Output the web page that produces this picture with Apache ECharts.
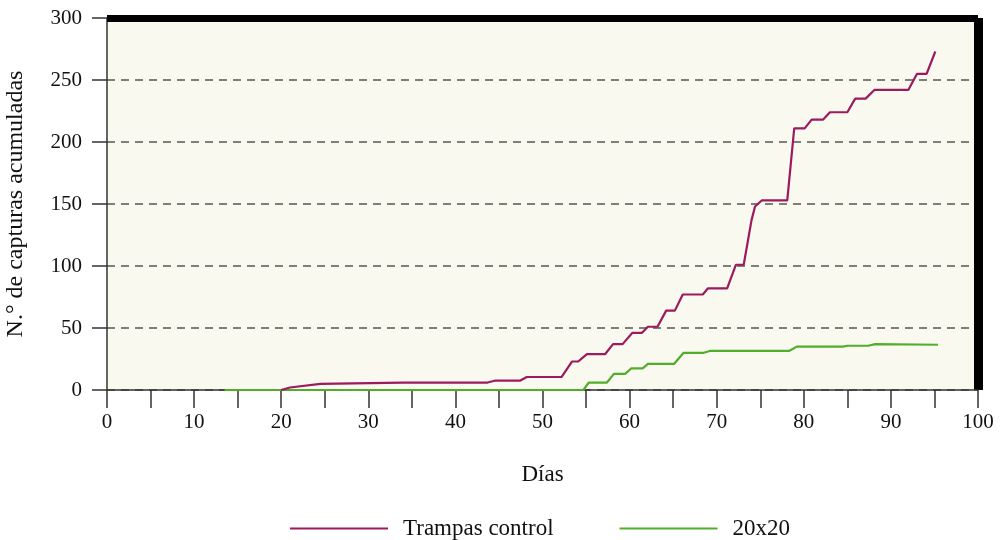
<!DOCTYPE html>
<html>
<head>
<meta charset="utf-8">
<script src="https://cdn.jsdelivr.net/npm/echarts@6/dist/echarts.min.js"></script>
<style>
  html, body { margin: 0; padding: 0; background: #fff; }
  #main { width: 1000px; height: 540px; }
</style>
</head>
<body>
<div id="main"></div>
<script>
// cumulative captures (day, count)
const controlDays = [20, 21, 24.5, 34, 43.7, 44.5, 47.4, 48.2, 52.2, 53.4, 54.1, 55.1, 57.2, 58.1, 59.2, 60.3, 61.4, 62.1, 63.2, 64.2, 65.2, 66.1, 68.4, 69, 71.2, 72.2, 73.1, 74, 74.4, 75.2, 78.1, 78.9, 80.1, 80.9, 82.2, 83, 85, 85.9, 87.1, 88.1, 92, 93, 94.1, 95.1];
const controlVals = [0, 2, 5, 6, 6, 7.5, 7.5, 10.5, 10.5, 23, 23, 29, 29, 37, 37, 46, 46, 51, 51, 64, 64, 77, 77, 82, 82, 101, 101, 137, 148, 153, 153, 211, 211, 218, 218, 224, 224, 235, 235, 242, 242, 255, 255, 273];

const gridDays = [13.5, 54.7, 55.3, 57.4, 58.2, 59.5, 60.2, 61.5, 62.1, 65.1, 66.2, 68.5, 69.2, 78.3, 79.2, 84.5, 85, 87.4, 88.2, 95.4];
const gridVals = [0, 0, 6, 6, 13, 13, 17.5, 17.5, 21, 21, 30, 30, 31.5, 31.5, 35, 35, 35.7, 35.7, 37, 36.5];

const seriesNames = ['Trampas control', '20x20'];
const xTicks = [0, 10, 20, 30, 40, 50, 60, 70, 80, 90, 100];
const yTicks = [0, 50, 100, 150, 200, 250, 300];

const font = '"Liberation Serif", "DejaVu Serif", serif';
const pairs = (xs, ys) => xs.map((x, i) => [x, ys[i]]);

window.onload = function () {
  const myChart = echarts.init(document.getElementById('main'));
  const option = {
    animation: false,
    textStyle: { fontFamily: font, color: '#111' },
    grid: {
      left: 107, right: 22, top: 18, bottom: 150,
      outerBoundsMode: 'none', containLabel: false,
      show: true, backgroundColor: '#f9f9ef', borderWidth: 0
    },
    legend: {
      left: 285, top: 512,
      icon: 'rect', itemWidth: 98, itemHeight: 2, itemGap: 66,
      textStyle: { fontFamily: font, fontSize: 23, color: '#111', padding: [0, 0, 0, 10] },
      data: seriesNames
    },
    xAxis: [{
      type: 'value', min: 0, max: 100, interval: 5,
      name: 'Días', nameLocation: 'middle', nameGap: 73,
      nameTextStyle: { fontFamily: font, fontSize: 23, color: '#111' },
      axisLine: { lineStyle: { color: '#333', width: 1.5 } },
      axisTick: { length: 18, lineStyle: { color: '#333', width: 1.5 } },
      axisLabel: {
        margin: 22, fontFamily: font, fontSize: 21, color: '#111',
        formatter: v => (xTicks.indexOf(v) >= 0 ? String(v) : '')
      },
      splitLine: { show: false }
    }, {
      type: 'value', min: 0, max: 100, position: 'top',
      axisLine: { show: true, onZero: false, lineStyle: { color: '#000', width: 7, cap: 'butt' } },
      axisTick: { show: false }, axisLabel: { show: false }, splitLine: { show: false }
    }],
    yAxis: [{
      type: 'value', min: 0, max: 300, interval: 50,
      name: 'N.° de capturas acumuladas', nameLocation: 'middle', nameGap: 79,
      nameTextStyle: { fontFamily: font, fontSize: 24, color: '#111' },
      axisLine: { show: true, lineStyle: { color: '#333', width: 1.5 } },
      axisTick: { show: true, length: 15, lineStyle: { color: '#333', width: 1.5 } },
      axisLabel: {
        margin: 25, fontFamily: font, fontSize: 21, color: '#111',
        formatter: v => (yTicks.indexOf(v) >= 0 ? String(v) : '')
      },
      splitLine: {
        show: true,
        lineStyle: { color: '#555', width: 1.5, type: [8, 6] }
      }
    }, {
      type: 'value', min: 0, max: 300, position: 'right',
      axisLine: { show: true, onZero: false, lineStyle: { color: '#000', width: 9, cap: 'butt' } },
      axisTick: { show: false }, axisLabel: { show: false }, splitLine: { show: false }
    }],
    series: [{
      name: seriesNames[0],
      type: 'line',
      symbol: 'none',
      z: 3,
      itemStyle: { color: '#9c1a5e' },
      lineStyle: { color: '#9c1a5e', width: 2.2 },
      data: pairs(controlDays, controlVals)
    }, {
      name: seriesNames[1],
      type: 'line',
      symbol: 'none',
      z: 2,
      itemStyle: { color: '#52ad2c' },
      lineStyle: { color: '#52ad2c', width: 2.2 },
      data: pairs(gridDays, gridVals)
    }]
  };
  myChart.setOption(option, true);
};
</script>
</body>
</html>
